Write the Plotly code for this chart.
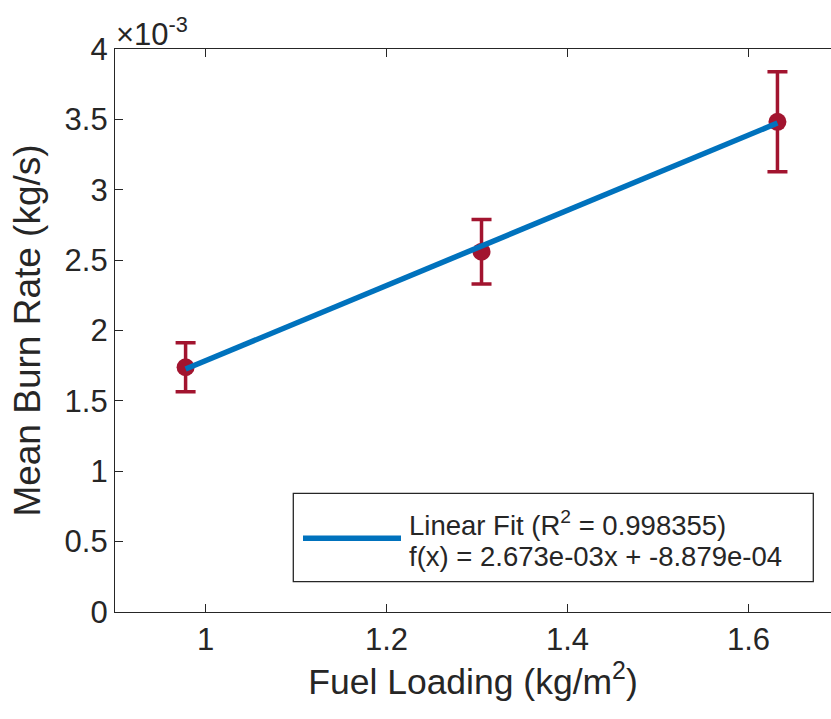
import plotly.graph_objects as go

# Data (burn rate values in units of 1e-3 kg/s)
fuel_loading = [0.978, 1.305, 1.632]
mean_burn_rate = [1.739, 2.560, 3.483]
burn_rate_err = [0.174, 0.229, 0.355]

fit_x = [0.978, 1.632]
fit_y = [1.726, 3.474]

x_ticks = [1, 1.2, 1.4, 1.6]
x_tick_labels = ["1", "1.2", "1.4", "1.6"]
y_ticks = [0, 0.5, 1, 1.5, 2, 2.5, 3, 3.5, 4]
y_tick_labels = ["0", "0.5", "1", "1.5", "2", "2.5", "3", "3.5", "4"]

legend_line1 = "Linear Fit (R<sup>2</sup> = 0.998355)"
legend_line2 = "f(x) = 2.673e-03x + -8.879e-04"

FONT = "Liberation Sans, Arial, Helvetica, sans-serif"
TXT = "#262626"
RED = "#A2142F"
BLUE = "#0072BD"

W, H = 831, 719
L, R, T, B = 115, 0, 49, 107
PW, PH = W - L - R, H - T - B


def px(xp):
    return (xp - L) / PW


def py(yp):
    return (H - B - yp) / PH


fig = go.Figure()
fig.add_trace(go.Scatter(
    x=fuel_loading, y=mean_burn_rate, mode="markers",
    marker=dict(color=RED, size=18),
    error_y=dict(type="data", array=burn_rate_err, color=RED, thickness=3.5, width=10),
    showlegend=False, name="Data"))
fig.add_trace(go.Scatter(
    x=fit_x, y=fit_y, mode="lines",
    line=dict(color=BLUE, width=5.5),
    showlegend=False, name="Linear Fit"))

axis_common = dict(
    showline=True, linecolor=TXT, linewidth=1.3,
    ticks="inside", ticklen=8, tickcolor=TXT, tickwidth=1.3,
    showgrid=False, zeroline=False,
    tickfont=dict(family=FONT, size=31, color=TXT),
)

fig.update_layout(
    width=W, height=H,
    margin=dict(l=L, r=R, t=T, b=B),
    paper_bgcolor="white", plot_bgcolor="white",
    showlegend=False,
    xaxis=dict(range=[0.9, 0.9 + PW / 905.0], tickvals=x_ticks, ticktext=x_tick_labels,
               mirror="ticks",
               title=dict(text="Fuel Loading (kg/m<sup>2</sup>)", standoff=12,
                          font=dict(family=FONT, size=35.5, color=TXT)),
               **axis_common),
    yaxis=dict(range=[0, 4], tickvals=y_ticks, ticktext=y_tick_labels,
               title=dict(text="Mean Burn Rate (kg/s)", standoff=12,
                          font=dict(family=FONT, size=37, color=TXT)),
               **axis_common),
    yaxis2=dict(range=[0, 4], tickvals=y_ticks, overlaying="y", side="right",
                showline=False, ticks="inside", ticklen=4, tickcolor=TXT, tickwidth=1.3,
                showticklabels=False, showgrid=False, zeroline=False),
)

# legend box drawn manually (MATLAB style with long line sample)
fig.add_shape(type="rect", xref="paper", yref="paper",
              x0=px(293.3), x1=px(813.3), y0=py(581.7), y1=py(493.3),
              line=dict(color=TXT, width=1.3), fillcolor="white", layer="above")
fig.add_shape(type="line", xref="paper", yref="paper",
              x0=px(303), x1=px(401), y0=py(538.3), y1=py(538.3),
              line=dict(color=BLUE, width=5.5), layer="above")
fig.add_annotation(xref="paper", yref="paper", x=px(407), y=py(523),
                   xanchor="left", yanchor="middle", showarrow=False,
                   text=legend_line1, font=dict(family=FONT, size=27.5, color=TXT))
fig.add_annotation(xref="paper", yref="paper", x=px(407), y=py(556),
                   xanchor="left", yanchor="middle", showarrow=False,
                   text=legend_line2, font=dict(family=FONT, size=27.5, color=TXT))

# exponent label
fig.add_annotation(xref="paper", yref="paper", x=px(114), y=py(54),
                   xanchor="left", yanchor="bottom", showarrow=False,
                   text="\u00d710<sup>-3</sup>", font=dict(family=FONT, size=31, color=TXT))

fig.write_html("out.html")
